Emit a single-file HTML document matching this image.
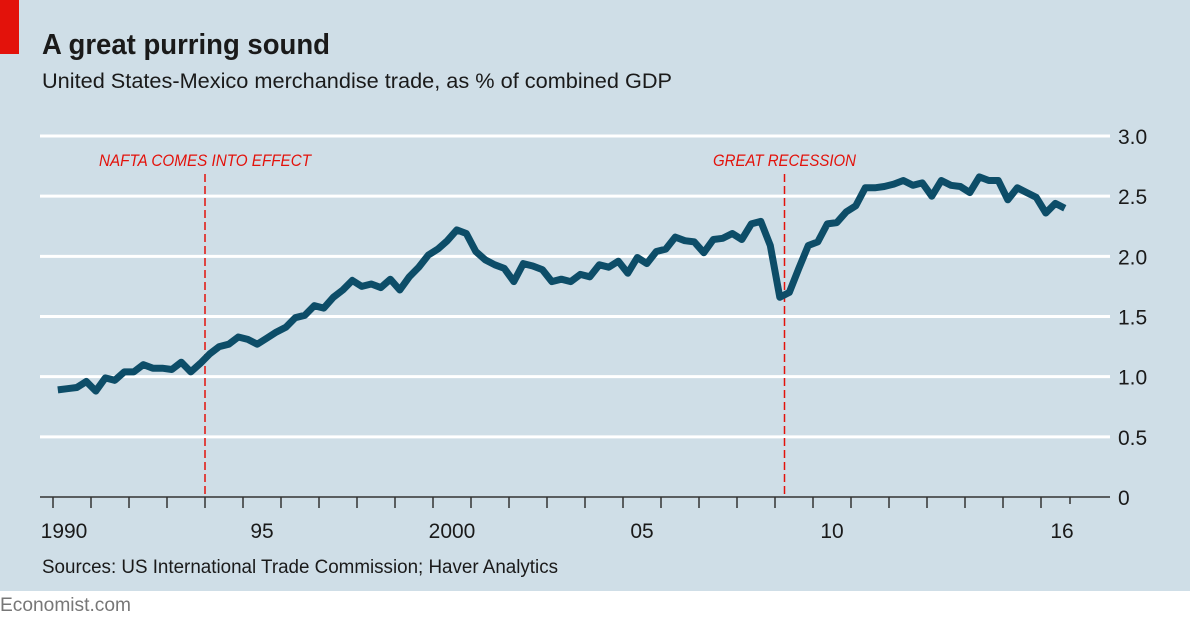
<!DOCTYPE html>
<html><head><meta charset="utf-8"><style>
html,body{margin:0;padding:0;background:#fff;}
svg{display:block;font-family:"Liberation Sans",sans-serif;}
</style></head><body>
<svg width="1190" height="624" viewBox="0 0 1190 624">
<rect x="0" y="0" width="1190" height="591" fill="#cfdee7"/>
<rect x="0" y="0" width="19" height="54" fill="#e3120b"/>
<text x="42" y="54" font-size="29" font-weight="bold" fill="#1a1a1a" textLength="288" lengthAdjust="spacingAndGlyphs">A great purring sound</text>
<text x="42" y="88" font-size="21" fill="#1a1a1a" textLength="630" lengthAdjust="spacingAndGlyphs">United States-Mexico merchandise trade, as % of combined GDP</text>
<g id="grid"></g>
<g id="axis"></g>
<g id="ann"></g>
<g id="series"></g>
<text x="42" y="573" font-size="19" fill="#1a1a1a" textLength="516" lengthAdjust="spacingAndGlyphs">Sources: US International Trade Commission; Haver Analytics</text>
<text x="0" y="611" font-size="19" fill="#777" textLength="131" lengthAdjust="spacingAndGlyphs">Economist.com</text>
</svg>
<script>
const values = [0.89,0.90,0.91,0.96,0.88,0.99,0.97,1.04,1.04,1.10,1.07,1.07,1.06,1.12,1.04,1.11,
1.19,1.25,1.27,1.33,1.31,1.27,1.32,1.37,1.41,1.49,1.51,1.59,1.57,1.66,1.72,1.80,
1.75,1.77,1.74,1.81,1.72,1.83,1.91,2.01,2.06,2.13,2.22,2.19,2.04,1.97,1.93,1.90,
1.79,1.94,1.92,1.89,1.79,1.81,1.79,1.85,1.83,1.93,1.91,1.96,1.86,1.99,1.94,2.04,
2.06,2.16,2.13,2.12,2.03,2.14,2.15,2.19,2.14,2.27,2.29,2.09,1.66,1.70,1.90,2.09,
2.12,2.27,2.28,2.37,2.42,2.57,2.57,2.58,2.60,2.63,2.59,2.61,2.50,2.63,2.59,2.58,
2.53,2.66,2.63,2.63,2.47,2.57,2.53,2.49,2.36,2.44,2.40];
const startYear = 1990;
const yTicks = [0,0.5,1.0,1.5,2.0,2.5,3.0];
const yTickLabels = ["0","0.5","1.0","1.5","2.0","2.5","3.0"];
const xLabelYears = [1990,1995,2000,2005,2010,2016];
const xLabels = ["1990","95","2000","05","10","16"];
const events = [1994.0, 2009.25];
const eventLabels = ["NAFTA COMES INTO EFFECT","GREAT RECESSION"];

const NS="http://www.w3.org/2000/svg";
function xs(yr){return 53+(yr-1990)*38;}
function ys(v){return 497-v*120.33;}
function mk(tag,attrs,parent){const e=document.createElementNS(NS,tag);for(const k in attrs)e.setAttribute(k,attrs[k]);parent.appendChild(e);return e;}
const grid=document.getElementById('grid'),axis=document.getElementById('axis'),ann=document.getElementById('ann'),series=document.getElementById('series');
yTicks.forEach((t,i)=>{
  if(t>0){const l=mk('line',{x1:40,x2:1110,y1:ys(t),y2:ys(t),stroke:'#fff','stroke-width':3},grid);
  
  }
  const tx=mk('text',{x:1118,y:ys(t)+8,'font-size':21,fill:'#1a1a1a'},grid);
  tx.textContent=yTickLabels[i];
  
  
});
const al=mk('line',{x1:40,x2:1110,y1:497,y2:497,stroke:'#333','stroke-width':1.5},axis);


for(let y=1990;y<=2016;y++){
  const t=mk('line',{x1:xs(y),x2:xs(y),y1:497,y2:508,stroke:'#333','stroke-width':1.5},axis);
  
  
}
const te=mk('line',{x1:1070,x2:1070,y1:497,y2:504,stroke:'#333','stroke-width':1.5},axis);


xLabelYears.forEach((y,i)=>{
  const off = y===1990 ? -8 : (y===2016 ? 2 : 0);
  const t=mk('text',{x:xs(y)+19+off,y:538,'font-size':21,fill:'#1a1a1a','text-anchor':'middle'},axis);
  t.textContent=xLabels[i];
  
  
});
events.forEach((e,i)=>{
  const l=mk('line',{x1:xs(e),x2:xs(e),y1:174,y2:497,stroke:'#e3120b','stroke-width':1.5,'stroke-dasharray':'8,4'},ann);
  
  
  const w=i===0?212:143;
  const t=mk('text',{x:xs(e)-w/2,y:166,'font-size':17,'font-style':'italic',fill:'#e3120b',textLength:w,lengthAdjust:'spacingAndGlyphs'},ann);
  t.textContent=eventLabels[i];
  
  
});
const pts=values.map((v,i)=>xs(startYear+i/4+0.125).toFixed(1)+','+ys(v).toFixed(1)).join(' ');
const pl=mk('polyline',{points:pts,fill:'none',stroke:'#0d4d68','stroke-width':7,'stroke-linejoin':'round','stroke-linecap':'butt'},series);


</script>
</body></html>
